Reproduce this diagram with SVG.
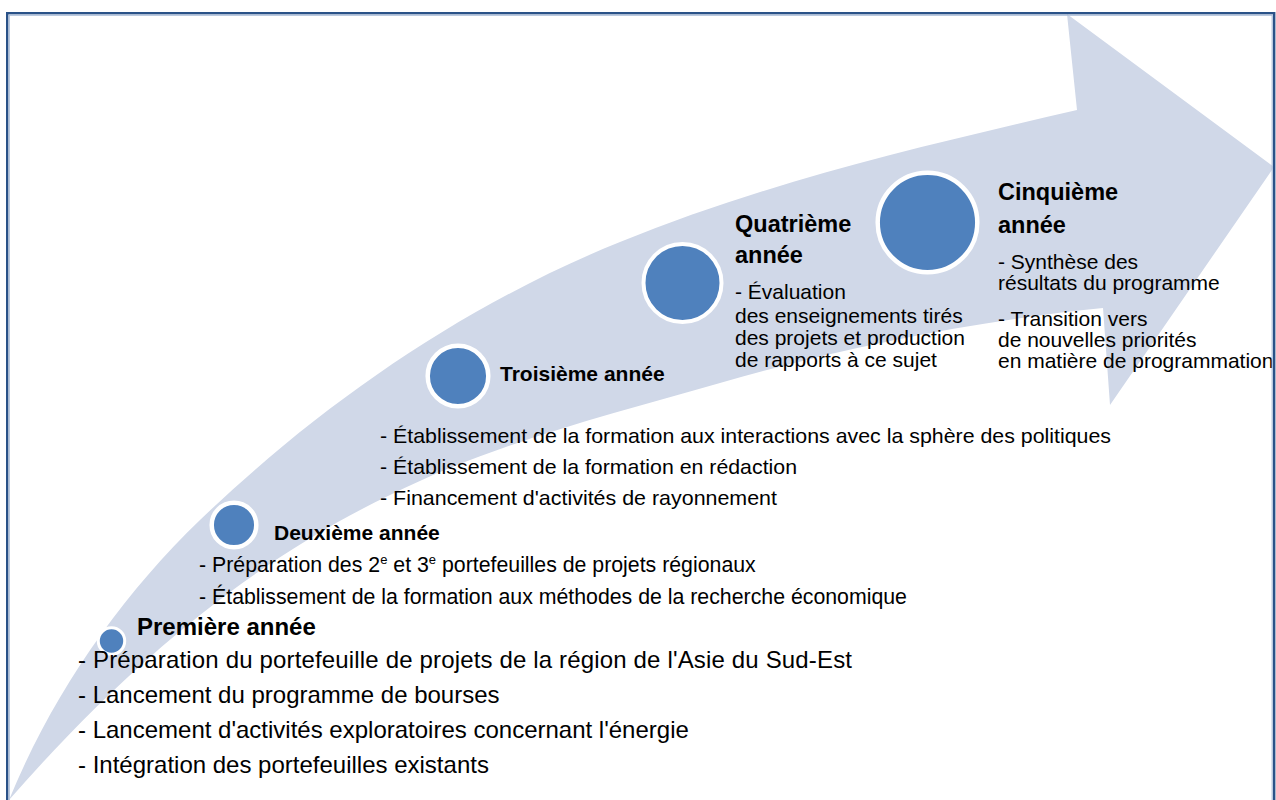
<svg xmlns="http://www.w3.org/2000/svg" width="1276" height="800" viewBox="0 0 1276 800">
  <defs>
    <style>
      text { font-family: "Liberation Sans", Arial, sans-serif; fill: #000; }
      .h24 { font-size: 24px; font-weight: bold; }
      .h23 { font-size: 23.5px; font-weight: bold; }
      .h21 { font-size: 21px; font-weight: bold; }
      .t24 { font-size: 24px; }
      .t21 { font-size: 21px; }
      .t21b { font-size: 21.3px; }
      .dot { fill: #4F81BD; stroke: #FFFFFF; }
      .band { fill: #D0D8E8; }
    </style>
    <clipPath id="frameClip">
      <rect x="8" y="14" width="1266" height="800"/>
    </clipPath>
  </defs>
  <rect x="0" y="0" width="1276" height="800" fill="#FFFFFF"/>
  <g clip-path="url(#frameClip)">
    <g id="arrow">
      <path class="band" d="M 9,800 C 52,695 119,598 200,520 C 321,404 464,305 620,242 C 767,182 922,146 1077,110 L 1067,14 L 1274,167 L 1110,405 L 1103,308 C 974,321 845,347 720,383 C 609,415 494,443 390,495 C 265,555 140,650 9,800 Z"/>
    </g>
    <g id="connectors"></g>
    <g id="node-annee1">
      <circle class="dot" cx="111.5" cy="641" r="13.2" stroke-width="3"/>
      <text class="h24" x="137" y="635">Première année</text>
      <text class="t24" x="78" y="668" textLength="774" lengthAdjust="spacing">- Préparation du portefeuille de projets de la région de l'Asie du Sud-Est</text>
      <text class="t24" x="78" y="703">- Lancement du programme de bourses</text>
      <text class="t24" x="78" y="738">- Lancement d'activités exploratoires concernant l'énergie</text>
      <text class="t24" x="78" y="773">- Intégration des portefeuilles existants</text>
    </g>
    <g id="node-annee2">
      <circle class="dot" cx="234" cy="525" r="22.3" stroke-width="4.5"/>
      <text class="h21" x="274" y="540">Deuxième année</text>
      <text class="t21b" x="199" y="572">- Préparation des 2<tspan font-size="13" dy="-8">e</tspan><tspan dy="8"> et 3</tspan><tspan font-size="13" dy="-8">e</tspan><tspan dy="8"> portefeuilles de projets régionaux</tspan></text>
      <text class="t21b" x="199" y="604">- Établissement de la formation aux méthodes de la recherche économique</text>
    </g>
    <g id="node-annee3">
      <circle class="dot" cx="458" cy="376" r="30.3" stroke-width="4.5"/>
      <text class="h21" x="500" y="381">Troisième année</text>
      <text class="t21" x="380" y="443" textLength="731" lengthAdjust="spacingAndGlyphs">- Établissement de la formation aux interactions avec la sphère des politiques</text>
      <text class="t21" x="380" y="474" textLength="417" lengthAdjust="spacingAndGlyphs">- Établissement de la formation en rédaction</text>
      <text class="t21" x="380" y="505" textLength="397" lengthAdjust="spacingAndGlyphs">- Financement d'activités de rayonnement</text>
    </g>
    <g id="node-annee4">
      <circle class="dot" cx="682.5" cy="283" r="39" stroke-width="4"/>
      <text class="h23" x="735" y="232">Quatrième</text>
      <text class="h23" x="735" y="263">année</text>
      <text class="t21" x="735" y="299">- Évaluation</text>
      <text class="t21" x="735" y="323">des enseignements tirés</text>
      <text class="t21" x="735" y="345">des projets et production</text>
      <text class="t21" x="735" y="367">de rapports à ce sujet</text>
    </g>
    <g id="node-annee5">
      <circle class="dot" cx="927.5" cy="222.5" r="49.8" stroke-width="4.5"/>
      <text class="h23" x="998" y="200">Cinquième</text>
      <text class="h23" x="998" y="233">année</text>
      <text class="t21" x="998" y="269">- Synthèse des</text>
      <text class="t21" x="998" y="290">résultats du programme</text>
      <text class="t21" x="998" y="326">- Transition vers</text>
      <text class="t21" x="998" y="347">de nouvelles priorités</text>
      <text class="t21" x="998" y="368">en matière de programmation</text>
    </g>
  </g>
  <g id="frame" fill="none">
    <rect x="7.2" y="13.2" width="1267" height="800" stroke="#2A5288" stroke-width="2.4"/>
    <rect x="9.2" y="15.2" width="1263" height="800" stroke="#A9BCD8" stroke-width="1.2"/>
  </g>
</svg>
